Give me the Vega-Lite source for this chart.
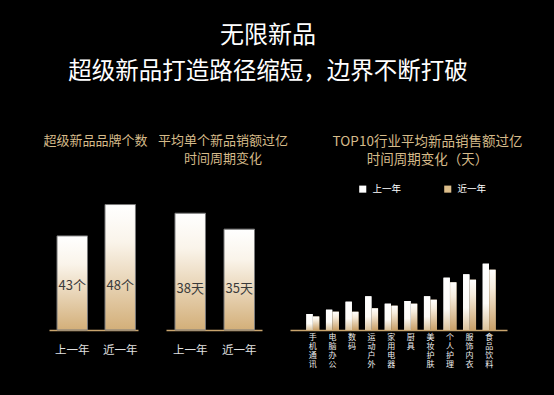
{
  "$schema": "https://vega.github.io/schema/vega-lite/v6.json",
  "background": "#000000",
  "padding": {"left": 43, "top": 24, "right": 44, "bottom": 28},
  "title": {
    "text": "无限新品",
    "subtitle": "超级新品打造路径缩短，边界不断打破",
    "anchor": "middle",
    "dx": -15,
    "color": "#ffffff",
    "subtitleColor": "#ffffff",
    "font": "Noto Sans CJK SC",
    "subtitleFont": "Noto Sans CJK SC",
    "fontSize": 24,
    "subtitleFontSize": 23.5,
    "fontWeight": "normal",
    "subtitlePadding": 12,
    "offset": 51
  },
  "config": {
    "font": "Noto Sans CJK SC",
    "view": {"stroke": null},
    "title": {"font": "Noto Sans CJK SC", "color": "#d6bb8a", "fontSize": 13, "fontWeight": "normal", "lineHeight": 18}
  },
  "spacing": 28,
  "bounds": "flush",
  "hconcat": [
    {
      "width": 89,
      "height": 138,
      "title": {"text": "超级新品品牌个数", "offset": 44, "dx": 2},
      "data": {"values": [
        {"year": "上一年", "v": 43, "label": "43个"},
        {"year": "近一年", "v": 48, "label": "48个"}
      ]},
      "encoding": {
        "x": {"field": "year", "type": "nominal", "sort": null,
          "scale": {"paddingInner": 0.365, "paddingOuter": 0.11, "align": 0.76},
          "axis": {"title": null, "labelAngle": 0, "domainColor": "#c9a56e", "domainWidth": 1.5, "ticks": false, "labelColor": "#e0e0e0", "labelFontSize": 11.5, "labelPadding": 14}}
      },
      "layer": [
        {
          "mark": {"type": "bar", "stroke": "#7a7a7a", "strokeWidth": 1,
            "fill": {"gradient": "linear", "x1": 0, "y1": 0, "x2": 0, "y2": 1,
              "stops": [{"offset": 0, "color": "#ffffff"}, {"offset": 0.3, "color": "#faf4ea"}, {"offset": 1, "color": "#d3af79"}]}},
          "encoding": {
            "y": {"field": "v", "type": "quantitative", "scale": {"domain": [28, 50], "zero": false}, "axis": null},
            "y2": {"datum": 28}
          }
        },
        {
          "mark": {"type": "text", "color": "#3a3a3a", "fontSize": 13},
          "encoding": {"y": {"datum": 35}, "text": {"field": "label"}}
        }
      ]
    },
    {
      "width": 96,
      "height": 138,
      "title": {"text": ["平均单个新品销额过亿", "时间周期变化"], "offset": 26, "dx": 9},
      "data": {"values": [
        {"year": "上一年", "v": 38, "label": "38天"},
        {"year": "近一年", "v": 35, "label": "35天"}
      ]},
      "encoding": {
        "x": {"field": "year", "type": "nominal", "sort": null,
          "scale": {"paddingInner": 0.378, "paddingOuter": 0.168, "align": 0.545},
          "axis": {"title": null, "labelAngle": 0, "domainColor": "#c9a56e", "domainWidth": 1.5, "ticks": false, "labelColor": "#e0e0e0", "labelFontSize": 11.5, "labelPadding": 14}}
      },
      "layer": [
        {
          "mark": {"type": "bar", "stroke": "#7a7a7a", "strokeWidth": 1,
            "fill": {"gradient": "linear", "x1": 0, "y1": 0, "x2": 0, "y2": 1,
              "stops": [{"offset": 0, "color": "#ffffff"}, {"offset": 0.3, "color": "#faf4ea"}, {"offset": 1, "color": "#d3af79"}]}},
          "encoding": {
            "y": {"field": "v", "type": "quantitative", "scale": {"domain": [16, 40.8], "zero": false}, "axis": null},
            "y2": {"datum": 16}
          }
        },
        {
          "mark": {"type": "text", "color": "#3a3a3a", "fontSize": 13},
          "encoding": {"y": {"datum": 23.7}, "text": {"field": "label"}}
        }
      ]
    },
    {
      "width": 217,
      "height": 138,
      "title": {"text": ["TOP10行业平均新品销售额过亿", "时间周期变化（天）"], "offset": 26, "fontSize": 13.5, "dx": 29},
      "data": {"values": [
        {"cat": "手机通讯", "year": "上一年", "v": 16},
        {"cat": "手机通讯", "year": "近一年", "v": 13.6},
        {"cat": "电脑办公", "year": "上一年", "v": 20.3},
        {"cat": "电脑办公", "year": "近一年", "v": 18.3},
        {"cat": "数码", "year": "上一年", "v": 28.3},
        {"cat": "数码", "year": "近一年", "v": 18.3},
        {"cat": "运动户外", "year": "上一年", "v": 33.7},
        {"cat": "运动户外", "year": "近一年", "v": 21.7},
        {"cat": "家用电器", "year": "上一年", "v": 26.3},
        {"cat": "家用电器", "year": "近一年", "v": 24.3},
        {"cat": "厨具", "year": "上一年", "v": 29},
        {"cat": "厨具", "year": "近一年", "v": 26.3},
        {"cat": "美妆护肤", "year": "上一年", "v": 33.7},
        {"cat": "美妆护肤", "year": "近一年", "v": 30.3},
        {"cat": "个人护理", "year": "上一年", "v": 52.3},
        {"cat": "个人护理", "year": "近一年", "v": 47.7},
        {"cat": "服饰内衣", "year": "上一年", "v": 55.7},
        {"cat": "服饰内衣", "year": "近一年", "v": 50.3},
        {"cat": "食品饮料", "year": "上一年", "v": 66.3},
        {"cat": "食品饮料", "year": "近一年", "v": 60.3}
      ]},
      "encoding": {
        "x": {"field": "cat", "type": "nominal", "sort": null,
          "scale": {"paddingInner": 0.34, "paddingOuter": 0.707, "align": 0.59},
          "axis": {"title": null, "labelAngle": 0, "labelExpr": "split(datum.label, '')", "labelLineHeight": 9, "labelFontSize": 8, "labelColor": "#f0f0f0", "labelBaseline": "top", "labelPadding": 3, "domainColor": "#c9a56e", "domainWidth": 1.5, "ticks": false}},
        "xOffset": {"field": "year", "type": "nominal", "sort": null, "scale": {"paddingInner": 0.05}},
        "y": {"field": "v", "type": "quantitative", "scale": {"domain": [0, 138]}, "axis": null}
      },
      "layer": [
        {
          "mark": {"type": "bar"},
          "encoding": {
            "color": {"field": "year", "type": "nominal", "sort": null,
              "scale": {"domain": ["上一年", "近一年"], "range": ["#ffffff", "#dcbd8a"]},
              "legend": {"title": null, "orient": "none", "legendX": 309, "legendY": -8, "direction": "horizontal", "symbolType": "square", "symbolSize": 50, "symbolStrokeWidth": 0, "labelColor": "#ffffff", "labelFontSize": 9.5, "columnPadding": 41, "labelOffset": 5}
            }
          }
        },
        {
          "mark": {"type": "bar"},
          "encoding": {
            "fill": {
              "condition": {"test": "datum.year === '上一年'", "value": {"gradient": "linear", "x1": 0, "y1": 0, "x2": 0, "y2": 1, "stops": [{"offset": 0, "color": "#ffffff"}, {"offset": 0.6, "color": "#fdfbf7"}, {"offset": 1, "color": "#dcc39b"}]}},
              "value": {"gradient": "linear", "x1": 0, "y1": 0, "x2": 0, "y2": 1, "stops": [{"offset": 0, "color": "#ffffff"}, {"offset": 0.3, "color": "#f6ecdc"}, {"offset": 1, "color": "#c9a068"}]}
            }
          }
        }
      ]
    }
  ]
}
